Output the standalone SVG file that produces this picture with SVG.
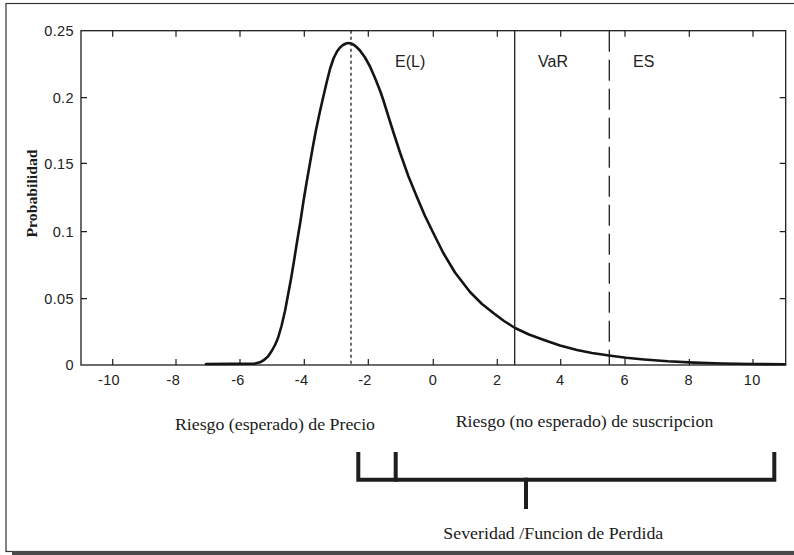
<svg xmlns="http://www.w3.org/2000/svg" width="794" height="555" viewBox="0 0 794 555">
<style>
.ax{fill:none;stroke:#1e1e1e;stroke-width:1.3}
.tk{stroke:#1e1e1e;stroke-width:1.2}
.tl{font-family:"Liberation Sans",Arial,sans-serif;font-size:14.5px;fill:#222;letter-spacing:0.4px}
.lab{font-family:"Liberation Sans",Arial,sans-serif;font-size:16px;fill:#222}
.ser{font-family:"Liberation Serif","Times New Roman",serif;font-size:17.5px;fill:#1a1a1a}
.br{fill:none;stroke:#1e1e1e;stroke-width:4;stroke-linecap:square;stroke-linejoin:miter}
</style>
<rect width="794" height="555" fill="#ffffff"/>
<g id="frame">
<rect x="6" y="3.5" width="800" height="548" fill="none" stroke="#333" stroke-width="1.2"/>
<rect x="12" y="551" width="790" height="4" fill="#4a4a4a"/>
</g>
<g id="axes">
<rect class="ax" x="81" y="30.7" width="704.7" height="334.3"/>
<g id="xticks">
<path class="tk" d="M112.7,365v-6M176,365v-6M240,365v-6M304.3,365v-6M368.3,365v-6M433.3,365v-6M497.3,365v-6M560.7,365v-6M625,365v-6M689.3,365v-6M753,365v-6"/>
<path class="tk" d="M112.7,30.7v6M176,30.7v6M240,30.7v6M304.3,30.7v6M368.3,30.7v6M433.3,30.7v6M497.3,30.7v6M560.7,30.7v6M625,30.7v6M689.3,30.7v6M753,30.7v6"/>
</g>
<g id="yticks">
<path class="tk" d="M81,97.7h6M81,163.3h6M81,231.7h6M81,298.7h6"/>
<path class="tk" d="M785.7,97.7h-6M785.7,163.3h-6M785.7,231.7h-6M785.7,298.7h-6"/>
</g>
<g id="xlabels" class="tl" text-anchor="middle">
<text x="109" y="385">-10</text>
<text x="173.3" y="385">-8</text>
<text x="238" y="385">-6</text>
<text x="301.7" y="385">-4</text>
<text x="365" y="385">-2</text>
<text x="433" y="385">0</text>
<text x="497.3" y="385">2</text>
<text x="560.3" y="385">4</text>
<text x="624.8" y="385">6</text>
<text x="688.7" y="385">8</text>
<text x="752.3" y="385">10</text>
</g>
<g id="ylabels" class="tl" text-anchor="end">
<text x="74" y="36">0.25</text>
<text x="74" y="103">0.2</text>
<text x="74" y="168.5">0.15</text>
<text x="74" y="237">0.1</text>
<text x="74" y="304">0.05</text>
<text x="74" y="370">0</text>
</g>
<text id="ylabel" transform="translate(36.5,193.5) rotate(-90)" text-anchor="middle" font-family="'Liberation Serif','Times New Roman',serif" font-weight="bold" font-size="14.5" fill="#1a1a1a" textLength="88" lengthAdjust="spacingAndGlyphs">Probabilidad</text>
</g>
<g id="curve">
<polyline fill="none" stroke="#141414" stroke-width="2.6" stroke-linejoin="round" stroke-linecap="round" points="206,364 255,363.6 260,362.3 264,360 268,356.5 272,350.5 275,345 278,338 281.5,326 285,311 288,295 291,279 294,261 297,242 300.5,221 303.5,201 306.5,183 310,163 313,146 316,130 319.5,113.5 323,98 326.5,83 330,69 333.5,58.5 337,51.5 340,47.5 343,45 346,43.5 348.5,43 351,43.5 354,45 357,47.5 360,50.5 365,57.5 370,66.5 375,78 380,90.5 383.3,100 386.7,111 393.3,132 400,152.5 408.3,176 416.7,196.5 425,216 433.3,233 443.3,253 455,272.5 470,292 482,304 494,313.5 504,321 515,328 529,334.5 544,340 560,345.5 577,350 592,353 609,355.5 626,357.8 644,359.5 668,361.3 694,362.6 722,363.5 752,364 785,364.3"/>
</g>
<g id="markers">
<line x1="351" y1="30.7" x2="351" y2="365" stroke="#1e1e1e" stroke-width="1.3" stroke-dasharray="3,3"/>
<line x1="514.7" y1="30.7" x2="514.7" y2="365" stroke="#1e1e1e" stroke-width="1.3"/>
<line x1="609.3" y1="30.7" x2="609.3" y2="365" stroke="#1e1e1e" stroke-width="1.3" stroke-dasharray="21,8"/>
</g>
<g id="region-labels" class="lab">
<text x="395" y="67">E(L)</text>
<text x="538" y="67">VaR</text>
<text x="633" y="67">ES</text>
</g>
<g id="bottom-labels" class="ser">
<text x="175" y="430" textLength="200" lengthAdjust="spacingAndGlyphs">Riesgo (esperado) de Precio</text>
<text x="455.7" y="426.7" textLength="257.6" lengthAdjust="spacingAndGlyphs">Riesgo (no esperado) de suscripcion</text>
<text x="443.3" y="539" textLength="220" lengthAdjust="spacingAndGlyphs">Severidad /Funcion de Perdida</text>
</g>
<g id="bracket">
<path class="br" d="M358.3,454V479.7H774.3V454"/>
<path class="br" d="M395.7,454V479.7"/>
<path class="br" d="M526,479.7V507"/>
</g>
</svg>
